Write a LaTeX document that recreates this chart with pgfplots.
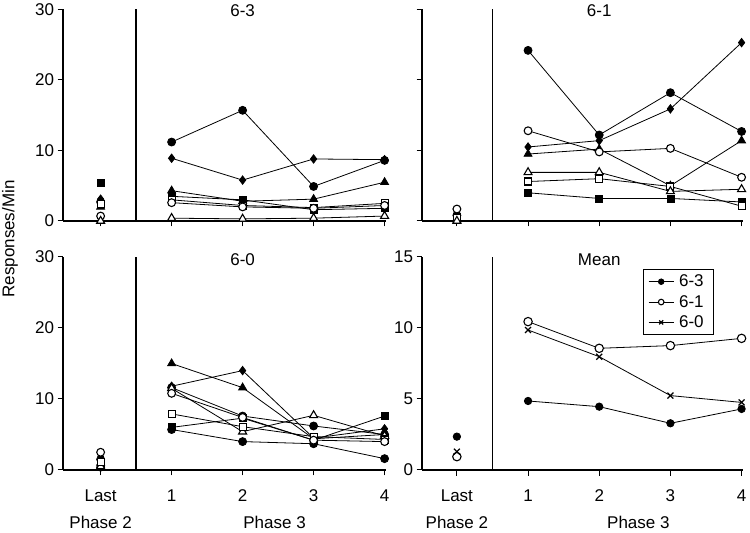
\documentclass[border=0pt]{standalone}
\usepackage{fontspec}
\setmainfont{Liberation Sans}
\usepackage{pgfplots}
\pgfplotsset{compat=1.18}

\newcommand{\chartfont}{\fontsize{17bp}{20bp}\selectfont}

\pgfplotsset{
  panel/.style={
    scale only axis, anchor=south west,
    axis x line*=bottom, axis y line*=left,
    xtick={0,1,2,3,4},
    tick align=outside, major tick length=5.5bp,
    tick style={black, line width=1bp},
    axis line style={black, line width=1.4bp},
    clip=false, unbounded coords=jump,
    font=\chartfont,
    /pgf/number format/assume math mode=true,
    xticklabel style={yshift=-11bp},
  },
  fc/.style={black, line width=0.8bp, mark=*, mark size=4bp},
  oc/.style={black, line width=0.8bp, mark=*, mark size=3.9bp, mark options={fill=white, line width=1.1bp}},
  fs/.style={black, line width=0.8bp, mark=square*, mark size=3.5bp},
  os/.style={black, line width=0.8bp, mark=square*, mark size=3.5bp, mark options={fill=white, line width=1.1bp}},
  ft/.style={black, line width=0.8bp, mark=triangle*, mark size=4.6bp},
  ot/.style={black, line width=0.8bp, mark=triangle*, mark size=4.6bp, mark options={fill=white, line width=1.1bp}},
  fd/.style={black, line width=0.8bp, mark=diamond*, mark size=4.2bp},
  phase/.style={black, line width=1.4bp, mark=none, forget plot},
}

\begin{document}
\begin{tikzpicture}
\path[use as bounding box] (0,0) rectangle (750bp,533bp);

% 6-3
\begin{axis}[panel, at={(63bp,312bp)}, width=323bp, height=211.5bp,
  xmin=-0.53, xmax=4.02, ymin=0, ymax=30, ytick={0,10,20,30}, xticklabels={}]
  \addplot[phase] coordinates {(0.5,0) (0.5,30)};
  \addplot[fc] coordinates {(0,2.7) (0.5,nan) (1,11.2) (2,15.7) (3,4.9) (4,8.6)};
  \addplot[fd] coordinates {(0,3.1) (0.5,nan) (1,8.9) (2,5.8) (3,8.8) (4,8.7)};
  \addplot[ft] coordinates {(0,2.0) (0.5,nan) (1,4.3) (2,2.8) (3,3.1) (4,5.5)};
  \addplot[fs] coordinates {(0,5.4) (0.5,nan) (1,3.5) (2,3.0) (3,1.6) (4,1.8)};
  \addplot[os] coordinates {(0,2.4) (0.5,nan) (1,3.0) (2,2.2) (3,1.9) (4,2.5)};
  \addplot[oc] coordinates {(0,0.7) (0.5,nan) (1,2.6) (2,2.0) (3,1.8) (4,2.2)};
  \addplot[ot] coordinates {(0,0.0) (0.5,nan) (1,0.4) (2,0.3) (3,0.4) (4,0.7)};
  \node at (axis cs:2,30) [yshift=-1bp] {6-3};
\end{axis}

% 6-1
\begin{axis}[panel, at={(422bp,312bp)}, width=321bp, height=211.5bp,
  xmin=-0.49, xmax=4.02, ymin=0, ymax=30, ytick={0,10,20,30}, xticklabels={}, yticklabels={}]
  \addplot[phase] coordinates {(0.5,0) (0.5,30)};
  \addplot[fc] coordinates {(0,0.8) (0.5,nan) (1,24.2) (2,12.2) (3,18.2) (4,12.7)};
  \addplot[fd] coordinates {(0,0.3) (0.5,nan) (1,10.5) (2,11.4) (3,15.9) (4,25.3)};
  \addplot[ft] coordinates {(0,0.2) (0.5,nan) (1,9.5) (2,10.2) (3,5.0) (4,11.4)};
  \addplot[fs] coordinates {(0,0.1) (0.5,nan) (1,4.0) (2,3.2) (3,3.2) (4,2.7)};
  \addplot[oc] coordinates {(0,1.7) (0.5,nan) (1,12.8) (2,9.8) (3,10.3) (4,6.2)};
  \addplot[os] coordinates {(0,0.5) (0.5,nan) (1,5.6) (2,6.0) (3,4.9) (4,2.1)};
  \addplot[ot] coordinates {(0,0.0) (0.5,nan) (1,6.9) (2,6.9) (3,4.2) (4,4.5)};
  \node at (axis cs:2,30) [yshift=-1bp] {6-1};
\end{axis}

% 6-0
\begin{axis}[panel, at={(63bp,63bp)}, width=323bp, height=213bp,
  xmin=-0.53, xmax=4.02, ymin=0, ymax=30, ytick={0,10,20,30},
  xticklabels={Last,1,2,3,4}]
  \addplot[phase] coordinates {(0.5,0) (0.5,30)};
  \addplot[ft] coordinates {(0,1.0) (0.5,nan) (1,15.0) (2,11.6) (3,4.4) (4,5.0)};
  \addplot[fd] coordinates {(0,1.3) (0.5,nan) (1,11.8) (2,14.0) (3,4.5) (4,5.8)};
  \addplot[fc] coordinates {(0,1.5) (0.5,nan) (1,11.6) (2,7.6) (3,6.2) (4,5.0)};
  \addplot[fs] coordinates {(0,0.8) (0.5,nan) (1,6.0) (2,7.3) (3,4.2) (4,7.6)};
  \addplot[fc] coordinates {(0,0.4) (0.5,nan) (1,5.7) (2,4.0) (3,3.7) (4,1.6)};
  \addplot[ot] coordinates {(0,0.5) (0.5,nan) (1,11.5) (2,5.4) (3,7.7) (4,4.8)};
  \addplot[os] coordinates {(0,1.1) (0.5,nan) (1,7.9) (2,6.1) (3,4.7) (4,4.3)};
  \addplot[oc] coordinates {(0,2.5) (0.5,nan) (1,10.8) (2,7.4) (3,4.2) (4,4.0)};
  \node at (axis cs:2,30) [yshift=-3bp] {6-0};
  \node at (axis cs:0,0) [yshift=-52bp] {Phase 2};
  \node at (axis cs:2.45,0) [yshift=-52bp] {Phase 3};
\end{axis}

% Mean
\begin{axis}[panel, at={(422bp,63bp)}, width=321bp, height=213bp,
  xmin=-0.49, xmax=4.02, ymin=0, ymax=15, ytick={0,5,10,15},
  xticklabels={Last,1,2,3,4},
  legend style={at={(0.6875,0.944)}, anchor=north west, draw=black, line width=1.2bp,
    font=\chartfont, inner xsep=5bp, inner ysep=3.5bp, row sep=3bp,
    nodes={inner xsep=5bp}},
  legend cell align=left,
  legend image code/.code={\draw[mark repeat=2,mark phase=2] plot coordinates {(0bp,0bp) (12.5bp,0bp) (25bp,0bp)};},
  legend image post style={mark size=2.8bp, line width=0.8bp}]
  \addplot[phase] coordinates {(0.5,0) (0.5,15)};
  \addplot[fc, mark size=3.7bp] coordinates {(0,2.35) (0.5,nan) (1,4.86) (2,4.46) (3,3.29) (4,4.30)};
  \addlegendentry{6-3}
  \addplot[oc, mark size=4.2bp] coordinates {(0,0.94) (0.5,nan) (1,10.45) (2,8.57) (3,8.76) (4,9.27)};
  \addlegendentry{6-1}
  \addplot[black, line width=0.8bp, mark=x, mark size=4.2bp, mark options={line width=1.2bp}] coordinates {(0,1.29) (0.5,nan) (1,9.86) (2,7.98) (3,5.24) (4,4.76)};
  \addlegendentry{6-0}
  \node at (axis cs:2,15) [yshift=-3bp] {Mean};
  \node at (axis cs:0,0) [yshift=-52bp] {Phase 2};
  \node at (axis cs:2.55,0) [yshift=-52bp] {Phase 3};
\end{axis}

\node[rotate=90, font=\chartfont] at (10bp,294bp) {Responses/Min};
\end{tikzpicture}
\end{document}
